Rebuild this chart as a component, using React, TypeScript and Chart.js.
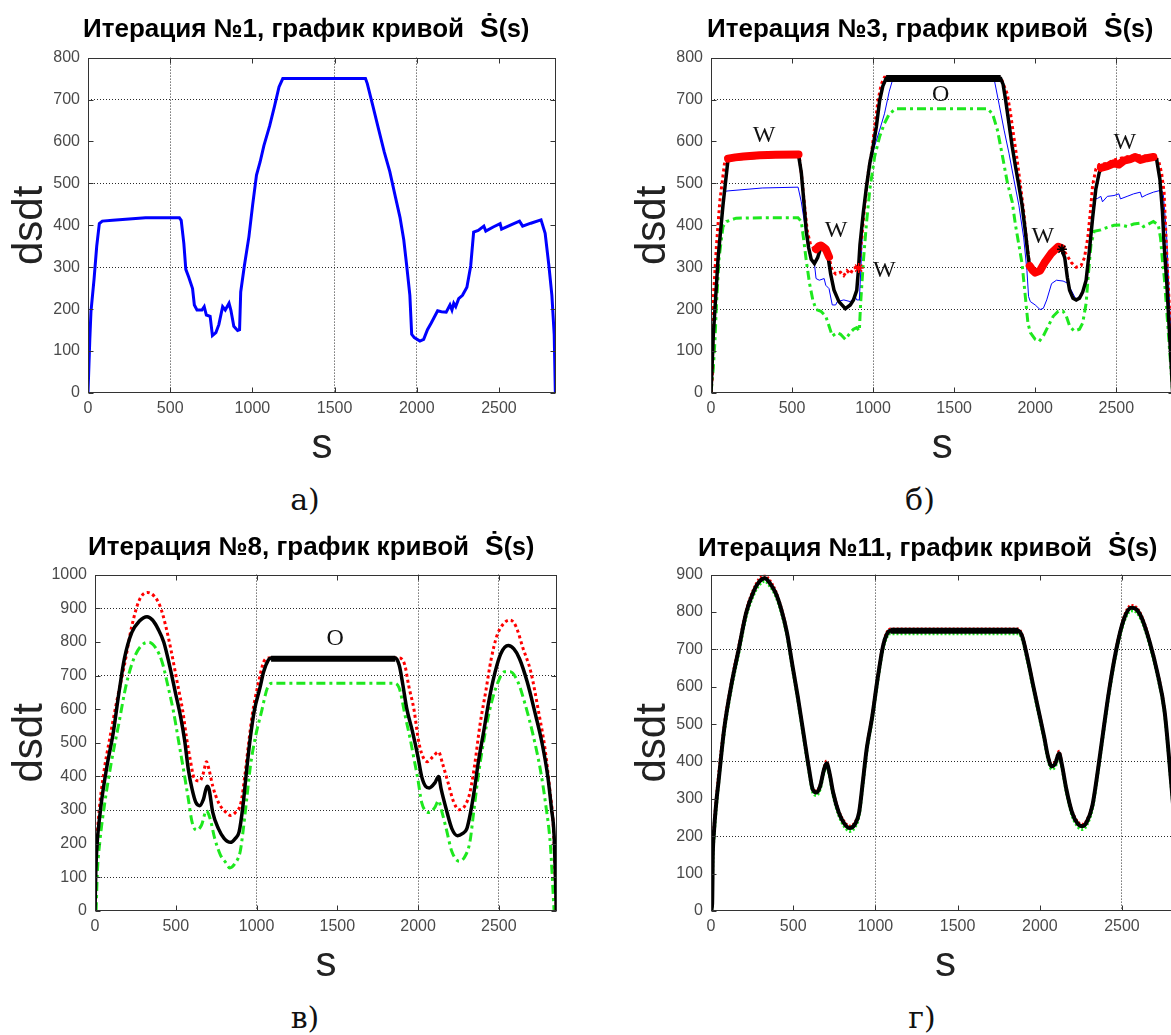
import React, { useEffect, useRef } from 'react';
import { Chart, registerables } from 'chart.js';
Chart.register(...registerables);

// ---------- Panel а (iteration 1) ----------
const aS = [0, 11, 18, 37, 53, 69, 87, 150, 250, 350, 450, 556, 567, 583, 595, 613, 636, 647, 663, 693, 707, 720, 743, 757, 778, 796, 819, 835, 858, 869, 887, 910, 922, 929, 951, 979, 1002, 1025, 1047, 1070, 1105, 1134, 1162, 1185, 1688, 1699, 1734, 1768, 1802, 1836, 1871, 1898, 1921, 1939, 1958, 1969, 1985, 2019, 2042, 2065, 2088, 2127, 2150, 2179, 2202, 2214, 2225, 2237, 2255, 2278, 2305, 2328, 2346, 2374, 2408, 2420, 2465, 2507, 2516, 2580, 2625, 2644, 2694, 2756, 2781, 2804, 2822, 2836, 2843];
const aV = [0, 128, 194, 272, 350, 404, 410, 412, 415, 418, 418, 418, 412, 357, 295, 276, 249, 210, 198, 198, 206, 186, 183, 137, 144, 163, 206, 198, 214, 198, 159, 149, 151, 241, 303, 373, 450, 520, 551, 590, 637, 683, 730, 750, 750, 738, 683, 629, 575, 528, 466, 419, 365, 303, 233, 140, 132, 124, 128, 151, 167, 196, 194, 193, 210, 198, 214, 206, 225, 233, 252, 303, 384, 388, 398, 386, 396, 404, 391, 402, 410, 398, 405, 413, 381, 303, 233, 140, 0];

// ---------- Panel б (iteration 3) ----------
const bKS = [0, 14, 44, 74, 105, 200, 300, 420, 541, 557, 573, 588, 602, 618, 638, 658, 674, 698, 718, 738, 759, 789, 829, 859, 879, 899, 909, 919, 940, 960, 980, 1000, 1020, 1040, 1060, 1080, 1787, 1802, 1818, 1838, 1858, 1878, 1899, 1919, 1939, 1955, 1966, 2000, 2030, 2061, 2101, 2142, 2162, 2182, 2198, 2212, 2233, 2253, 2273, 2293, 2314, 2334, 2354, 2374, 2395, 2405, 2445, 2486, 2516, 2546, 2587, 2617, 2648, 2688, 2729, 2749, 2769, 2785, 2795, 2812, 2830, 2848];
const bKV = [0, 136, 323, 448, 557, 560, 563, 565, 565, 526, 456, 385, 347, 319, 309, 323, 343, 350, 335, 284, 245, 218, 201, 210, 222, 245, 292, 354, 432, 495, 549, 588, 635, 697, 732, 750, 750, 736, 697, 643, 588, 541, 495, 448, 386, 331, 300, 288, 292, 312, 333, 348, 345, 323, 276, 245, 226, 222, 226, 241, 269, 339, 417, 487, 526, 534, 537, 545, 541, 551, 555, 561, 553, 557, 561, 557, 510, 432, 354, 260, 130, 0];
const bRS = [0, 8, 14, 34, 54, 85, 105, 200, 300, 420, 540, 547, 561, 577, 594, 614, 638, 658, 678, 708, 728, 748, 769, 799, 819, 839, 859, 879, 899, 911, 930, 950, 970, 990, 1010, 1030, 1050, 1070, 1787, 1828, 1848, 1868, 1888, 1909, 1929, 1945, 1959, 1966, 2000, 2030, 2061, 2101, 2142, 2162, 2192, 2223, 2253, 2283, 2304, 2324, 2340, 2354, 2374, 2395, 2445, 2486, 2546, 2617, 2688, 2759, 2779, 2795, 2815, 2835, 2848];
const bRV = [0, 43, 222, 354, 456, 553, 561, 565, 568, 570, 570, 557, 510, 448, 386, 354, 343, 347, 352, 345, 323, 292, 284, 288, 280, 292, 284, 298, 300, 296, 370, 456, 526, 572, 635, 697, 736, 753, 753, 713, 666, 611, 557, 495, 432, 370, 323, 308, 290, 294, 313, 334, 350, 347, 331, 311, 300, 304, 323, 370, 432, 495, 534, 545, 548, 556, 562, 567, 565, 557, 526, 479, 300, 150, 0];
const bBS = [0, 14, 44, 70, 85, 105, 316, 537, 557, 588, 618, 638, 648, 668, 698, 708, 728, 748, 769, 779, 819, 859, 889, 899, 915, 925, 938, 955, 980, 1010, 1040, 1070, 1100, 1121, 1747, 1777, 1808, 1838, 1868, 1899, 1929, 1949, 1959, 1970, 2000, 2030, 2050, 2071, 2101, 2131, 2172, 2200, 2253, 2293, 2314, 2334, 2354, 2374, 2384, 2405, 2415, 2445, 2486, 2516, 2526, 2567, 2607, 2648, 2658, 2688, 2729, 2769, 2789, 2810, 2830, 2848];
const bBV = [0, 136, 323, 430, 481, 482, 489, 491, 456, 378, 323, 308, 273, 269, 273, 257, 249, 210, 210, 218, 222, 218, 230, 222, 222, 300, 420, 495, 545, 590, 627, 666, 720, 748, 748, 689, 627, 572, 510, 448, 370, 292, 230, 218, 210, 199, 202, 222, 261, 269, 267, 262, 222, 241, 269, 339, 417, 464, 464, 469, 456, 469, 471, 475, 463, 469, 475, 479, 467, 473, 479, 483, 479, 380, 200, 0];
const bGS = [0, 14, 24, 34, 50, 74, 95, 155, 316, 537, 557, 573, 588, 608, 628, 648, 678, 708, 728, 748, 779, 799, 829, 859, 879, 899, 915, 923, 940, 960, 980, 1010, 1040, 1070, 1100, 1141, 1706, 1737, 1767, 1798, 1828, 1858, 1878, 1899, 1919, 1939, 1955, 1970, 2000, 2024, 2050, 2081, 2111, 2142, 2172, 2192, 2212, 2239, 2273, 2293, 2314, 2328, 2344, 2364, 2405, 2445, 2486, 2526, 2567, 2607, 2648, 2668, 2729, 2759, 2773, 2785, 2796, 2820, 2848];
const bGV = [0, 58, 121, 214, 323, 397, 409, 417, 418, 418, 409, 362, 315, 261, 222, 199, 195, 183, 160, 136, 144, 140, 128, 144, 152, 156, 148, 214, 315, 409, 487, 565, 611, 643, 666, 678, 678, 666, 627, 565, 502, 456, 401, 354, 308, 230, 167, 144, 128, 123, 136, 160, 183, 195, 195, 183, 160, 148, 152, 167, 214, 284, 354, 386, 389, 395, 400, 401, 397, 403, 405, 397, 409, 401, 370, 315, 276, 150, 0];
// thick "W" segments and the "O" plateau
const bW1S = [105, 150, 200, 300, 400, 540];
const bW1V = [559, 562, 564, 567, 568, 569];
const bW2S = [648, 665, 678, 695, 708, 728];
const bW2V = [343, 350, 352, 347, 343, 325];
const bW4S = [1966, 1985, 2000, 2030, 2061, 2101, 2142, 2162];
const bW4V = [303, 292, 287, 292, 313, 334, 349, 346];
const bW5S = [2405, 2445, 2486, 2516, 2546, 2587, 2617, 2648, 2688, 2729];
const bW5V = [537, 541, 548, 545, 554, 558, 563, 556, 560, 563];
const bOS = [1080, 1787];
const bOV = [750, 750];
const bStarS = [911, 2165];
const bStarV = [298, 343];
const bLabT = ['W', 'W', 'W', 'O', 'W', 'W'];
const bLabS = [328, 772, 1069, 1416, 2047, 2552];
const bLabV = [613, 387, 292, 711, 373, 597];

// ---------- Panel в (iteration 8) ----------
const cKS = [0, 5, 14, 30, 42, 77, 112, 147, 182, 228, 275, 322, 356, 391, 426, 461, 496, 531, 555, 578, 601, 624, 648, 671, 694, 706, 729, 764, 799, 839, 869, 892, 916, 939, 962, 986, 1021, 1044, 1072, 1090, 1859, 1883, 1906, 1929, 1964, 1999, 2022, 2046, 2069, 2104, 2127, 2143, 2174, 2209, 2244, 2274, 2302, 2325, 2349, 2372, 2407, 2442, 2477, 2512, 2558, 2593, 2628, 2675, 2721, 2768, 2803, 2826, 2842, 2856];
const cKV = [0, 120, 206, 284, 332, 439, 527, 645, 750, 828, 862, 875, 865, 838, 799, 731, 653, 575, 507, 420, 362, 323, 313, 332, 371, 362, 293, 245, 216, 204, 216, 235, 313, 420, 517, 595, 663, 711, 745, 752, 752, 731, 672, 604, 536, 459, 400, 371, 366, 381, 400, 362, 303, 245, 224, 230, 245, 293, 362, 439, 536, 634, 711, 765, 789, 779, 750, 682, 595, 498, 400, 303, 225, 0];
const cRS = [0, 7, 23, 54, 89, 135, 182, 228, 275, 326, 368, 403, 438, 473, 508, 543, 566, 590, 613, 648, 671, 690, 706, 729, 764, 811, 839, 869, 904, 927, 951, 974, 1009, 1044, 1072, 1883, 1918, 1941, 1976, 1999, 2022, 2057, 2092, 2127, 2151, 2186, 2221, 2255, 2290, 2321, 2349, 2384, 2419, 2453, 2488, 2535, 2570, 2605, 2651, 2698, 2745, 2787, 2815, 2838, 2856];
const cRV = [60, 167, 284, 410, 507, 624, 731, 847, 925, 947, 935, 906, 847, 770, 682, 595, 517, 449, 396, 386, 410, 444, 420, 371, 323, 293, 284, 293, 323, 400, 498, 585, 672, 740, 752, 752, 731, 672, 595, 517, 468, 444, 459, 473, 439, 381, 323, 301, 313, 352, 430, 556, 653, 750, 818, 857, 865, 847, 779, 711, 595, 478, 362, 245, 0];
const cGS = [7, 14, 30, 61, 100, 147, 193, 240, 287, 333, 380, 415, 450, 485, 520, 555, 578, 601, 629, 659, 690, 713, 741, 776, 811, 834, 869, 899, 916, 939, 962, 993, 1032, 1067, 1095, 1848, 1883, 1918, 1953, 1976, 1999, 2022, 2069, 2104, 2127, 2143, 2174, 2209, 2255, 2290, 2321, 2344, 2372, 2407, 2442, 2488, 2535, 2570, 2617, 2663, 2710, 2757, 2791, 2819, 2842];
const cGV = [0, 109, 206, 323, 439, 556, 672, 750, 789, 799, 779, 741, 672, 595, 498, 400, 332, 264, 240, 255, 298, 274, 216, 167, 143, 128, 143, 177, 235, 332, 430, 517, 595, 663, 677, 677, 663, 585, 507, 449, 391, 323, 293, 308, 328, 303, 245, 177, 148, 162, 206, 293, 400, 507, 595, 672, 711, 711, 682, 614, 527, 420, 313, 196, 0];
const cOS = [1090, 1859];
const cOV = [750, 750];
const cLabT = ['O'];
const cLabS = [1486];
const cLabV = [808];

// ---------- Panel г (iteration 11) ----------
const dKS = [0, 7, 11, 18, 34, 45, 79, 124, 169, 214, 259, 293, 327, 360, 394, 428, 462, 495, 529, 563, 597, 619, 642, 664, 687, 703, 721, 743, 777, 811, 845, 878, 901, 923, 946, 980, 1014, 1047, 1070, 1092, 1869, 1892, 1926, 1959, 1993, 2027, 2050, 2072, 2095, 2117, 2133, 2162, 2196, 2230, 2259, 2286, 2320, 2354, 2387, 2421, 2466, 2511, 2556, 2590, 2624, 2669, 2714, 2759, 2795, 2825, 2848];
const dKV = [0, 20, 150, 212, 299, 343, 483, 605, 701, 798, 855, 881, 890, 876, 850, 806, 745, 658, 570, 474, 378, 325, 317, 334, 378, 395, 369, 317, 264, 234, 222, 234, 264, 343, 430, 518, 623, 710, 741, 750, 750, 736, 675, 605, 535, 465, 413, 387, 395, 422, 395, 325, 264, 234, 227, 238, 282, 378, 483, 588, 701, 780, 811, 806, 780, 719, 640, 535, 365, 200, 0];
const dES = [0, 7, 11, 18, 34, 79, 124, 169, 214, 259, 293, 327, 360, 394, 428, 462, 495, 529, 563, 597, 619, 642, 664, 687, 703, 721, 743, 777, 811, 845, 878, 901, 923, 946, 980, 1014, 1047, 1070, 1092, 1869, 1892, 1926, 1959, 1993, 2027, 2050, 2072, 2095, 2117, 2133, 2162, 2196, 2230, 2259, 2286, 2320, 2354, 2387, 2421, 2466, 2511, 2556, 2590, 2624, 2669, 2714, 2759, 2795, 2825, 2848];
const dRV = [30, 60, 170, 230, 315, 495, 615, 712, 806, 862, 889, 897, 884, 857, 812, 750, 663, 575, 478, 383, 330, 322, 339, 384, 402, 374, 322, 270, 240, 228, 240, 270, 350, 437, 525, 630, 716, 747, 755, 755, 741, 680, 610, 540, 470, 418, 393, 401, 428, 401, 330, 270, 240, 233, 244, 288, 384, 490, 595, 707, 787, 818, 812, 786, 725, 646, 540, 370, 205, 0];
const dGV = [0, 10, 135, 195, 285, 472, 595, 690, 788, 845, 872, 882, 868, 842, 798, 737, 650, 562, 466, 370, 317, 309, 326, 370, 387, 361, 309, 256, 226, 213, 226, 256, 335, 422, 510, 615, 702, 733, 742, 742, 728, 667, 597, 527, 457, 405, 379, 387, 414, 387, 317, 256, 226, 218, 230, 274, 370, 475, 580, 693, 772, 803, 798, 772, 711, 632, 527, 358, 195, 0];
const dOS = [1092, 1869];
const dOV = [750, 750];

// tick / grid values
const xTicks = [0, 500, 1000, 1500, 2000, 2500];
const aXGrid = [500, 1500, 2000];
const aYGrid = [300, 500, 700];
const bXGrid = [1000, 2500];
const bYGrid = [200, 300, 500, 700];
const cXGrid = [1000, 2000, 2500];
const cYGrid = [100, 300, 400, 700, 900];
const dXGrid = [1000, 2500];
const dYGrid = [200, 400, 700];

const titles = ['Итерация №1, график кривой', 'Итерация №3, график кривой', 'Итерация №8, график кривой', 'Итерация №11, график кривой'];
const captions = ['а)', 'б)', 'в)', 'г)'];

const pts = (s: number[], v: number[]) => s.map((x, i) => ({ x, y: v[i] }));

const RED = '#ff0000';
const GREEN = '#1ee81e';
const BLUE = '#0000ff';

function ln(s: number[], v: number[], color: string, width: number, dash: number[] = [], extra: any = {}) {
  return {
    data: pts(s, v),
    borderColor: color,
    backgroundColor: color,
    borderWidth: width,
    borderDash: dash,
    pointRadius: 0,
    fill: false,
    tension: 0,
    ...extra,
  };
}

const DOT = [3, 3];
const DASHDOT = [9, 4, 3, 4];
const mono = { cubicInterpolationMode: 'monotone' };

const panels = [
  {
    box: { x: 0, y: 40, w: 585, h: 440 }, padTop: 10, padRight: 29, yW: 88, xH: 87, yTitlePad: 5, xTitlePad: 8,
    xMax: 2847, yMax: 800, xGrid: aXGrid, yGrid: aYGrid,
    datasets: [ln(aS, aV, BLUE, 3)],
    labels: null as any,
  },
  {
    box: { x: 600, y: 40, w: 580, h: 440 }, padTop: 10, padRight: 0, yW: 111, xH: 87, yTitlePad: 28, xTitlePad: 8,
    xMax: 2853, yMax: 800, xGrid: bXGrid, yGrid: bYGrid,
    datasets: [
      {
        data: pts(bStarS, bStarV), showLine: false, pointStyle: 'star', pointRadius: 5,
        pointBorderColor: [RED, '#000'], pointBorderWidth: 1.5, borderColor: RED,
      },
      ln(bW1S, bW1V, RED, 8, [], { borderCapStyle: 'round', borderJoinStyle: 'round' }),
      ln(bW2S, bW2V, RED, 8, [], { borderCapStyle: 'round', borderJoinStyle: 'round' }),
      ln(bW4S, bW4V, RED, 8, [], { borderCapStyle: 'round', borderJoinStyle: 'round' }),
      ln(bW5S, bW5V, RED, 8, [], { borderCapStyle: 'round', borderJoinStyle: 'round' }),
      ln(bOS, bOV, '#000', 7),
      ln(bKS, bKV, '#000', 3.5),
      ln(bRS, bRV, RED, 3, DOT),
      ln(bBS, bBV, BLUE, 1),
      ln(bGS, bGV, GREEN, 3, DASHDOT),
    ],
    labels: { t: bLabT, s: bLabS, v: bLabV },
  },
  {
    box: { x: 0, y: 557, w: 585, h: 440 }, padTop: 10, padRight: 28, yW: 95, xH: 86, yTitlePad: 5, xTitlePad: 7,
    xMax: 2860, yMax: 1000, xGrid: cXGrid, yGrid: cYGrid,
    datasets: [
      ln(cOS, cOV, '#000', 6),
      ln(cKS, cKV, '#000', 3.5, [], mono),
      ln(cRS, cRV, RED, 3, DOT, mono),
      ln(cGS, cGV, GREEN, 3, DASHDOT, mono),
    ],
    labels: { t: cLabT, s: cLabS, v: cLabV },
  },
  {
    box: { x: 600, y: 557, w: 580, h: 440 }, padTop: 10, padRight: 0, yW: 111, xH: 86, yTitlePad: 28, xTitlePad: 7,
    xMax: 2853, yMax: 900, xGrid: dXGrid, yGrid: dYGrid,
    datasets: [
      ln(dOS, dOV, '#000', 6),
      ln(dKS, dKV, '#000', 4, [], mono),
      ln(dES, dRV, RED, 2.5, [2, 2], mono),
      ln(dES, dGV, GREEN, 3, [2, 2], mono),
    ],
    labels: null as any,
  },
];

const TICK_FONT = "'Liberation Sans Narrow', 'Liberation Sans', Arial, sans-serif";

const framePlugin = {
  id: 'frameTicks',
  afterDatasetsDraw(chart: any) {
    const { ctx, chartArea: a, scales } = chart;
    ctx.save();
    ctx.strokeStyle = '#333';
    ctx.lineWidth = 1;
    ctx.setLineDash([]);
    const L = Math.round(a.left) + 0.5, R = Math.round(a.right) - 0.5;
    const T = Math.round(a.top) + 0.5, B = Math.round(a.bottom) - 0.5;
    ctx.strokeRect(L, T, R - L, B - T);
    ctx.beginPath();
    scales.x.ticks.forEach((t: any) => {
      const px = Math.round(scales.x.getPixelForValue(t.value)) + 0.5;
      ctx.moveTo(px, B); ctx.lineTo(px, B - 5);
      ctx.moveTo(px, T); ctx.lineTo(px, T + 5);
    });
    scales.y.ticks.forEach((t: any) => {
      const py = Math.round(scales.y.getPixelForValue(t.value)) + 0.5;
      ctx.moveTo(L, py); ctx.lineTo(L + 5, py);
      ctx.moveTo(R, py); ctx.lineTo(R - 5, py);
    });
    ctx.stroke();
    ctx.restore();
  },
};

function labelPlugin(lab: any) {
  return {
    id: 'wLabels',
    afterDatasetsDraw(chart: any) {
      if (!lab) return;
      const { ctx, scales } = chart;
      ctx.save();
      ctx.font = "24px 'Liberation Serif', 'Times New Roman', serif";
      ctx.fillStyle = '#111';
      ctx.textAlign = 'center';
      ctx.textBaseline = 'middle';
      lab.t.forEach((t: string, i: number) => {
        ctx.fillText(t, scales.x.getPixelForValue(lab.s[i]), scales.y.getPixelForValue(lab.v[i]));
      });
      ctx.restore();
    },
  };
}

function buildConfig(p: any): any {
  const tickFont = { family: TICK_FONT, size: 16 };
  const gridColor = (vals: number[]) => (c: any) =>
    c.tick && vals.includes(c.tick.value) ? '#2a2a2a' : 'rgba(0,0,0,0)';
  return {
    type: 'line',
    data: { datasets: p.datasets },
    options: {
      animation: false,
      responsive: false,
      devicePixelRatio: 1,
      layout: { padding: { top: p.padTop, right: p.padRight, left: 0, bottom: 0 } },
      plugins: { legend: { display: false }, tooltip: { enabled: false }, title: { display: false } },
      elements: { point: { radius: 0 } },
      scales: {
        x: {
          type: 'linear', min: 0, max: p.xMax,
          afterBuildTicks: (s: any) => { s.ticks = xTicks.map((v) => ({ value: v })); },
          ticks: { stepSize: 500, includeBounds: false, font: tickFont, color: '#4a4a4a', padding: 6, maxRotation: 0, autoSkip: false, callback: (v: any) => String(v) },
          grid: { color: gridColor(p.xGrid), drawTicks: false, lineWidth: 1 },
          border: { display: false, dash: [1, 2] },
          title: { display: true, text: 's', color: '#222', font: { family: "'Liberation Sans', Arial, sans-serif", size: 42 }, padding: { top: 0, bottom: p.xTitlePad } },
          afterFit: (s: any) => { s.height = p.xH; },
        },
        y: {
          type: 'linear', min: 0, max: p.yMax,
          ticks: { stepSize: 100, includeBounds: false, font: tickFont, color: '#4a4a4a', padding: 8, autoSkip: false, callback: (v: any) => String(v) },
          grid: { color: gridColor(p.yGrid), drawTicks: false, lineWidth: 1 },
          border: { display: false, dash: [1, 2] },
          title: { display: true, text: 'dsdt', color: '#222', font: { family: "'Liberation Sans', Arial, sans-serif", size: 42 }, padding: { top: p.yTitlePad, bottom: 0 } },
          afterFit: (s: any) => { s.width = p.yW; },
        },
      },
    },
    plugins: [framePlugin, labelPlugin(p.labels)],
  };
}

function PanelChart({ p }: { p: any }) {
  const ref = useRef<HTMLCanvasElement>(null);
  useEffect(() => {
    if (!ref.current) return;
    const chart = new Chart(ref.current, buildConfig(p));
    return () => chart.destroy();
  }, []);
  return (
    <canvas
      ref={ref}
      width={p.box.w}
      height={p.box.h}
      style={{ position: 'absolute', left: p.box.x, top: p.box.y, width: p.box.w, height: p.box.h }}
    />
  );
}

const titlePos = [
  { left: 83, top: 15 },
  { left: 707, top: 15 },
  { left: 88, top: 533 },
  { left: 698, top: 534 },
];
const capPos = [
  { cx: 305, top: 483 },
  { cx: 920, top: 483 },
  { cx: 305, top: 1001 },
  { cx: 922, top: 1001 },
];

export default function App() {
  return (
    <div style={{ position: 'absolute', left: 0, top: 0, width: 1171, height: 1035, overflow: 'hidden', background: '#fff' }}>
      {panels.map((p, i) => (
        <PanelChart key={i} p={p} />
      ))}
      {titles.map((t, i) => (
        <div
          key={'t' + i}
          style={{
            position: 'absolute', left: titlePos[i].left, top: titlePos[i].top, whiteSpace: 'nowrap',
            fontFamily: "'Liberation Sans', Arial, sans-serif", fontWeight: 'bold', fontSize: 26, lineHeight: '26px', color: '#000',
          }}
        >
          {t}
          <span style={{ display: 'inline-block', width: 16 }} />
          <span style={{ fontSize: 28 }}>Ṡ</span>
          <span style={{ fontSize: 25 }}>(s)</span>
        </div>
      ))}
      {captions.map((c, i) => (
        <div
          key={'c' + i}
          style={{
            position: 'absolute', left: capPos[i].cx - 60, width: 120, top: capPos[i].top, textAlign: 'center',
            fontFamily: "'DejaVu Serif', serif", fontSize: 30, lineHeight: '34px', color: '#111',
          }}
        >
          {c}
        </div>
      ))}
    </div>
  );
}
